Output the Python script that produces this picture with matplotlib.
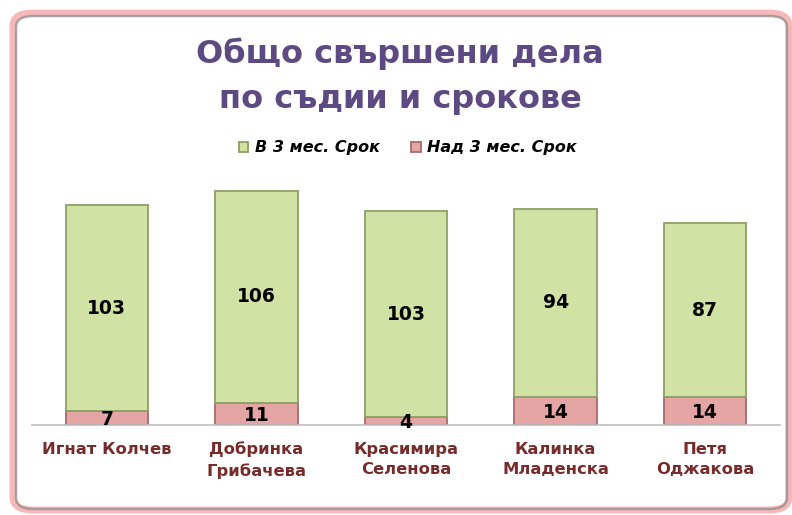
import numpy as np
import matplotlib
matplotlib.use("Agg")
import matplotlib.pyplot as plt
from matplotlib.patches import FancyBboxPatch

# ── data ─────────────────────────────────────────────
judges = ["Игнат Колчев", "Добринка\nГрибачева", "Красимира\nСеленова",
          "Калинка\nМладенска", "Петя\nОджакова"]
within_3m = [103, 106, 103, 94, 87]
over_3m = [7, 11, 4, 14, 14]
series_names = ["В 3 мес. Срок", "Над 3 мес. Срок"]

GREEN, GREEN_EDGE = "#D1E2A5", "#8FA066"
PINK, PINK_EDGE = "#E5A5A5", "#A86A6A"
TITLE_C = "#5E4A82"
LABEL_C = "#772C2C"

plt.rcParams["font.family"] = ["DejaVu Sans"]

fig = plt.figure(figsize=(7.92, 5.15), dpi=100)

# frame: pink glow + grey shadow, rounded
fig.patches.append(FancyBboxPatch((13 / 792, 5 / 515), 776 / 792, 497 / 515,
                                  boxstyle="round,pad=0,rounding_size=0.025",
                                  transform=fig.transFigure, fill=False,
                                  edgecolor="#F6B9B9", linewidth=5, zorder=0))
fig.patches.append(FancyBboxPatch((16 / 792, 6 / 515), 771 / 792, 493 / 515,
                                  boxstyle="round,pad=0,rounding_size=0.022",
                                  transform=fig.transFigure, fill=False,
                                  edgecolor="#8C8C8C", linewidth=1.8, alpha=0.7, zorder=0))

ax = fig.add_axes([32 / 792, 90 / 515, 748 / 792, 244 / 515])
x = np.arange(len(judges))
w = 0.55

b1 = ax.bar(x, over_3m, w, color=PINK, edgecolor=PINK_EDGE, linewidth=1.3,
            label=series_names[1], zorder=2)
b2 = ax.bar(x, within_3m, w, bottom=over_3m, color=GREEN, edgecolor=GREEN_EDGE,
            linewidth=1.3, label=series_names[0], zorder=2)

for i in range(len(x)):
    ax.text(x[i], over_3m[i] / 2 - 0.8, str(over_3m[i]), ha="center", va="center",
            fontsize=13.5, fontweight="bold", color="black", zorder=3)
    ax.text(x[i], over_3m[i] + within_3m[i] / 2, str(within_3m[i]), ha="center",
            va="center", fontsize=13.5, fontweight="bold", color="black", zorder=3)

ax.set_xlim(-0.5, len(x) - 0.5)
ax.set_ylim(0, 122)
ax.set_xticks(x)
ax.set_xticklabels(judges, fontsize=11.8, fontweight="bold", color=LABEL_C,
                   linespacing=1.45)
ax.tick_params(axis="x", length=0, pad=12)
ax.set_yticks([])
for s in ["top", "right", "left"]:
    ax.spines[s].set_visible(False)
ax.spines["bottom"].set_color("#BFBFBF")
ax.spines["bottom"].set_linewidth(1.2)
ax.set_facecolor("none")

fig.text(0.505, 0.852, "Общо свършени дела\nпо съдии и срокове", ha="center",
         va="center", fontsize=23, fontweight="bold", color=TITLE_C,
         linespacing=1.55)

leg = fig.legend([b2, b1], series_names, loc="center", bbox_to_anchor=(0.515, 0.713),
                 ncol=2, frameon=False, handlelength=0.6, handleheight=0.6,
                 columnspacing=2.0, handletextpad=0.4,
                 prop={"size": 11.5, "weight": "bold", "style": "italic"})

fig.savefig("out.png", dpi=100)
